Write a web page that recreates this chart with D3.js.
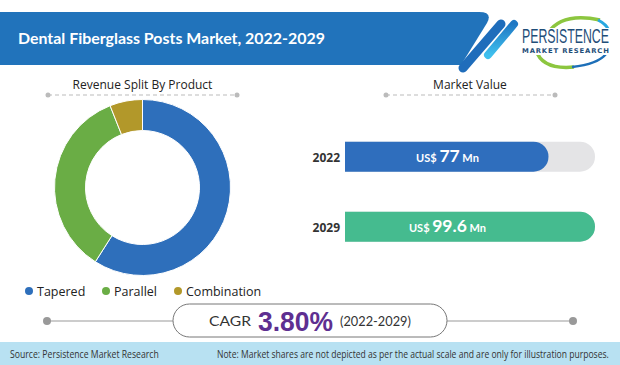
<!DOCTYPE html>
<html>
<head>
<meta charset="utf-8">
<script src="https://cdn.jsdelivr.net/npm/d3@7"></script>
<style>
  body { margin: 0; background: #fff; }
  svg { display: block; }
</style>
</head>
<body>
<div id="chart"></div>
<script>
// chart data
const products = ["Tapered", "Parallel", "Combination"];
const shares = [59, 35, 6];
const productColors = ["#2e6fbb", "#6aad45", "#b2982a"];

const years = ["2022", "2029"];
const marketValues = [77, 99.6];
const barColors = ["#2f6ebd", "#45bb8f"];

const cagrValue = "3.80%";
const cagrPeriod = "(2022-2029)";

const W = 620, H = 365;
const textFont = "'Open Sans', 'Noto Sans', sans-serif";
const headFont = "Lato, 'Open Sans', sans-serif";

const svg = d3.select("#chart")
  .append("svg")
  .attr("width", W)
  .attr("height", H);

// squeeze a text horizontally so it spans the given width
function fitText(x, y, width, label) {
  const t = svg.append("text")
    .attr("transform", `translate(${x},${y})`)
    .text(label);
  return {
    node: t,
    fit() {
      const natural = t.node().getComputedTextLength();
      t.attr("transform", `translate(${x},${y}) scale(${width / natural},1)`);
      return t;
    }
  };
}

// header band
svg.append("path")
  .attr("d", "M0,12 H479 Q493,12 487,23 L461,65 H0 Z")
  .attr("fill", "#2173bb");

svg.append("line")
  .attr("x1", 501).attr("y1", 24).attr("x2", 463).attr("y2", 68)
  .attr("stroke", "#1f6dbb").attr("stroke-width", 9).attr("stroke-linecap", "round");

const grad = svg.append("defs").append("linearGradient")
  .attr("id", "stripe").attr("x1", "0").attr("y1", "0").attr("x2", "0").attr("y2", "1");
grad.append("stop").attr("offset", "0").attr("stop-color", "#1f78c4");
grad.append("stop").attr("offset", "1").attr("stop-color", "#3fc0ee");

svg.append("line")
  .attr("x1", 514).attr("y1", 24).attr("x2", 488).attr("y2", 55)
  .attr("stroke", "url(#stripe)").attr("stroke-width", 8).attr("stroke-linecap", "round");

const title = fitText(18, 44, 307, "Dental Fiberglass Posts Market, 2022-2029");
title.node
  .attr("fill", "#fff")
  .style("font-family", headFont)
  .style("font-weight", "700")
  .style("font-size", "15.5px");
title.fit();

// logo (rough)
const logo = svg.append("g");
logo.append("path").attr("d", "M548,33 Q562,12 600,20")
  .attr("fill", "none").attr("stroke", "#8cc63f").attr("stroke-width", 3.5);
logo.append("path").attr("d", "M598,20 Q614,28 609,44")
  .attr("fill", "none").attr("stroke", "#29a8e0").attr("stroke-width", 3);
logo.append("path").attr("d", "M536,50 Q542,70 574,67")
  .attr("fill", "none").attr("stroke", "#8cc63f").attr("stroke-width", 3.5);
logo.append("path").attr("d", "M572,67 Q598,64 606,54")
  .attr("fill", "none").attr("stroke", "#1d6fb8").attr("stroke-width", 2.5);
logo.append("rect").attr("x", 520).attr("y", 28).attr("width", 92).attr("height", 27).attr("fill", "#fff");

const brand = fitText(522, 43, 87, "PERSISTENCE");
brand.node
  .attr("fill", "#1f4e79")
  .style("font-family", "'Liberation Sans', Arial, sans-serif")
  .style("font-size", "19.5px");
brand.fit();
const brandSub = fitText(522, 53, 88, "MARKET RESEARCH");
brandSub.node
  .attr("fill", "#1f4e79")
  .style("font-family", "'DejaVu Sans', sans-serif")
  .style("font-size", "6.5px")
  .style("font-weight", "700")
  .style("letter-spacing", "0.8px");
brandSub.fit();

// section titles with dashed rules
function sectionTitle(cx, x1, x2, label) {
  svg.append("text")
    .attr("x", cx).attr("y", 89)
    .attr("text-anchor", "middle")
    .attr("fill", "#222")
    .style("font-family", textFont)
    .style("font-size", "12px")
    .text(label);
  svg.append("line")
    .attr("x1", x1).attr("x2", x2).attr("y1", 95).attr("y2", 95)
    .attr("stroke", "#bbb").attr("stroke-dasharray", "4,3");
  svg.selectAll(null)
    .data([x1, x2])
    .join("circle")
    .attr("cx", d => d).attr("cy", 95).attr("r", 2.5)
    .attr("fill", "#bbb");
}
sectionTitle(142.5, 48, 237, "Revenue Split By Product");
sectionTitle(470, 386, 555, "Market Value");

// donut
const pie = d3.pie().sort(null).value(d => d)(shares);
const arc = d3.arc().innerRadius(57).outerRadius(88);
svg.append("g")
  .attr("transform", "translate(142.5,187.5)")
  .selectAll("path")
  .data(pie)
  .join("path")
  .attr("d", arc)
  .attr("fill", (d, i) => productColors[i])
  .attr("stroke", "#fff")
  .attr("stroke-width", 1);

// legend
const legendX = [29, 106, 178];
const legend = svg.selectAll(".legend")
  .data(products)
  .join("g")
  .attr("transform", (d, i) => `translate(${legendX[i]},291)`);
legend.append("circle")
  .attr("r", 4)
  .attr("fill", (d, i) => productColors[i]);
legend.append("text")
  .attr("x", 8).attr("y", 4.5)
  .attr("fill", "#222")
  .style("font-family", textFont)
  .style("font-size", "12.5px")
  .text(d => d);

// market value bars
const barX0 = 345, barH = 30;
const x = d3.scaleLinear()
  .domain([0, d3.max(marketValues)])
  .range([barX0 + 45, 595]);
const y = d3.scaleOrdinal().domain(years).range([141.7, 211.7]);

function roundEnd(x0, x1, y0, h) {
  const r = h / 2;
  return `M${x0},${y0} H${x1 - r} A${r},${r} 0 0 1 ${x1 - r},${y0 + h} H${x0} Z`;
}

svg.selectAll(".track")
  .data(years)
  .join("path")
  .attr("d", d => roundEnd(barX0, x.range()[1], y(d), barH))
  .attr("fill", "#e4e4e6");

svg.selectAll(".bar")
  .data(marketValues)
  .join("path")
  .attr("d", (d, i) => roundEnd(barX0, x(d), y(years[i]), barH))
  .attr("fill", (d, i) => barColors[i]);

svg.selectAll(".year")
  .data(years)
  .join("text")
  .attr("x", 340)
  .attr("y", d => y(d) + 20)
  .attr("text-anchor", "end")
  .attr("fill", "#333")
  .style("font-family", textFont)
  .style("font-weight", "700")
  .style("font-size", "12px")
  .text(d => d);

const valueLabel = svg.selectAll(".val")
  .data(marketValues)
  .join("text")
  .attr("x", 447.5)
  .attr("y", (d, i) => y(years[i]) + 20.5)
  .attr("text-anchor", "middle")
  .attr("fill", "#fff")
  .style("font-family", headFont)
  .style("font-weight", "700");
valueLabel.append("tspan").style("font-size", "11px").text("US$ ");
valueLabel.append("tspan").style("font-size", "17.5px").text(d => d);
valueLabel.append("tspan").style("font-size", "11px").text(" Mn");

// CAGR row
svg.append("line").attr("x1", 47).attr("x2", 173).attr("y1", 321).attr("y2", 321)
  .attr("stroke", "#999");
svg.append("line").attr("x1", 447).attr("x2", 573).attr("y1", 321).attr("y2", 321)
  .attr("stroke", "#999");
svg.selectAll(".dot")
  .data([47, 573])
  .join("circle")
  .attr("cx", d => d).attr("cy", 321).attr("r", 4)
  .attr("fill", "#999");
svg.append("rect")
  .attr("x", 173).attr("y", 304).attr("width", 274).attr("height", 33).attr("rx", 16.5)
  .attr("fill", "#fff").attr("stroke", "#777");

const cagrLabel = fitText(209, 326, 42, "CAGR");
cagrLabel.node
  .attr("fill", "#333")
  .style("font-family", headFont)
  .style("font-size", "14px");
cagrLabel.fit();

const cagrNum = fitText(258, 330.5, 75, cagrValue);
cagrNum.node
  .attr("fill", "#5e2f91")
  .style("font-family", "'Liberation Sans', Arial, sans-serif")
  .style("font-weight", "700")
  .style("font-size", "28px");
cagrNum.fit();

const cagrYears = fitText(340, 326, 71, cagrPeriod);
cagrYears.node
  .attr("fill", "#333")
  .style("font-family", headFont)
  .style("font-size", "14px");
cagrYears.fit();

// footer
svg.append("rect")
  .attr("x", 0).attr("y", 342).attr("width", W).attr("height", H - 342)
  .attr("fill", "#b8e1f2");
const source = fitText(10, 358, 149, "Source: Persistence Market Research");
source.node
  .attr("fill", "#333")
  .style("font-family", textFont)
  .style("font-size", "10.5px");
source.fit();
const note = fitText(217, 358, 392, "Note: Market shares are not depicted as per the actual scale and are only for illustration purposes.");
note.node
  .attr("fill", "#333")
  .style("font-family", textFont)
  .style("font-size", "10.5px");
note.fit();
</script>
</body>
</html>
